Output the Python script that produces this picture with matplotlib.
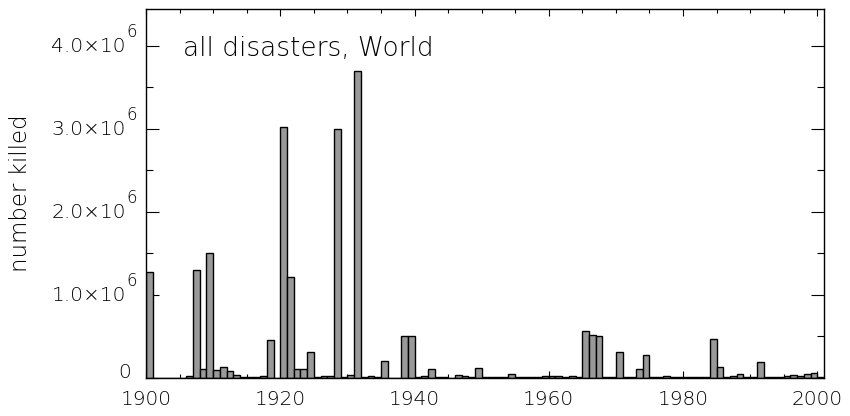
import matplotlib
matplotlib.use("Agg")
import matplotlib.pyplot as plt
from matplotlib.ticker import MultipleLocator, FixedLocator
from matplotlib.transforms import ScaledTranslation, blended_transform_factory
import numpy as np

# ---- data ----
years = list(range(1900, 2001))
deaths = [
    1.27e6, 0, 0, 0, 0, 0, 0.020e6, 1.30e6, 0.104e6, 1.50e6,          # 1900-1909
    0.088e6, 0.125e6, 0.076e6, 0.028e6, 0.008e6, 0.005e6, 0.005e6, 0.016e6, 0.46e6, 0.002e6,  # 1910-1919
    3.02e6, 1.21e6, 0.108e6, 0.108e6, 0.31e6, 0.010e6, 0.016e6, 0.016e6, 3.00e6, 0.004e6,    # 1920-1929
    0.030e6, 3.70e6, 0.008e6, 0.024e6, 0.006e6, 0.205e6, 0.002e6, 0.002e6, 0.50e6, 0.50e6,    # 1930-1939
    0.008e6, 0.016e6, 0.108e6, 0.008e6, 0.004e6, 0.002e6, 0.036e6, 0.020e6, 0.004e6, 0.112e6, # 1940-1949
    0.012e6, 0.012e6, 0.004e6, 0.008e6, 0.044e6, 0.008e6, 0.004e6, 0.004e6, 0.004e6, 0.024e6, # 1950-1959
    0.024e6, 0.024e6, 0.004e6, 0.024e6, 0.008e6, 0.566e6, 0.520e6, 0.506e6, 0.006e6, 0.004e6, # 1960-1969
    0.31e6, 0.008e6, 0.008e6, 0.108e6, 0.27e6, 0.004e6, 0.004e6, 0.024e6, 0.012e6, 0.004e6,   # 1970-1979
    0.012e6, 0.008e6, 0.008e6, 0.008e6, 0.47e6, 0.125e6, 0.008e6, 0.024e6, 0.040e6, 0.008e6,  # 1980-1989
    0.012e6, 0.19e6, 0.008e6, 0.008e6, 0.012e6, 0.024e6, 0.028e6, 0.024e6, 0.048e6, 0.056e6,  # 1990-1999
    0.008e6,                                                                                    # 2000
]
x_major = [1900, 1920, 1940, 1960, 1980, 2000]
x_labels = ["1900", "1920", "1940", "1960", "1980", "2000"]
y_major = [0, 1.0e6, 2.0e6, 3.0e6, 4.0e6]
y_label_base = ["0", "1.0×10", "2.0×10", "3.0×10", "4.0×10"]
y_label_exp = ["", "6", "6", "6", "6"]
title_text = "all disasters, World"
ylabel_text = "number killed"

plt.rcParams["font.family"] = ["DejaVu Sans"]
plt.rcParams["font.weight"] = "light"
plt.rcParams["text.color"] = "black"

W, H = 850, 416
fig = plt.figure(figsize=(W / 100, H / 100), dpi=100)
L, R, T, B = 146, 824, 9.3, 377.7
ax = fig.add_axes([L / W, (H - B) / H, (R - L) / W, (B - T) / H])

ax.bar(years, deaths, width=1.0, align="edge", color="#999999",
       edgecolor="black", linewidth=1.0, zorder=2)

ax.set_xlim(1900, 2001)
ax.set_ylim(0, 4.44e6)
ax.set_axisbelow(True)

for s in ax.spines.values():
    s.set_linewidth(1.0)
    s.set_color("black")

ax.xaxis.set_major_locator(FixedLocator(x_major))
ax.xaxis.set_minor_locator(MultipleLocator(5))
ax.set_xticklabels(x_labels)
ax.tick_params(axis="x", which="major", direction="in", length=5.3, width=0.8,
               top=True, bottom=True, labelsize=14.5, pad=9, labelcolor="black")
ax.tick_params(axis="x", which="minor", direction="in", length=2.7, width=0.8,
               top=True, bottom=True)

ax.yaxis.set_major_locator(FixedLocator(y_major))
ax.yaxis.set_minor_locator(MultipleLocator(0.5e6))
ax.tick_params(axis="y", which="major", direction="in", length=9.7, width=0.8,
               left=True, right=True, labelleft=False)
ax.tick_params(axis="y", which="minor", direction="in", length=4.9, width=0.8,
               left=True, right=True)

# y tick labels drawn as text on the tick positions (mantissa + raised exponent)
trans = blended_transform_factory(ax.transAxes, ax.transData)
dpi_t = fig.dpi_scale_trans
for v, base, ex in zip(y_major, y_label_base, y_label_exp):
    if ex:
        off = ScaledTranslation(-20 / 100, -6.5 / 100, dpi_t)
        ax.text(0, v, base, transform=trans + off, ha="right", va="baseline",
                fontsize=14.5)
        off2 = ScaledTranslation(-19.5 / 100, 8.5 / 100, dpi_t)
        ax.text(0, v, ex, transform=trans + off2, ha="left", va="baseline",
                fontsize=12)
    else:
        off = ScaledTranslation(-15 / 100, 0, dpi_t)
        ax.text(0, v, base, transform=trans + off, ha="right", va="baseline",
                fontsize=14.5)

ax.text(0.0546, 0.873, title_text, transform=ax.transAxes, ha="left",
        va="baseline", fontsize=19)

fig.text(21 / W, 1 - 193 / H, ylabel_text, rotation=90, ha="center",
         va="center", fontsize=16.5)

fig.savefig("out.png", dpi=100)
